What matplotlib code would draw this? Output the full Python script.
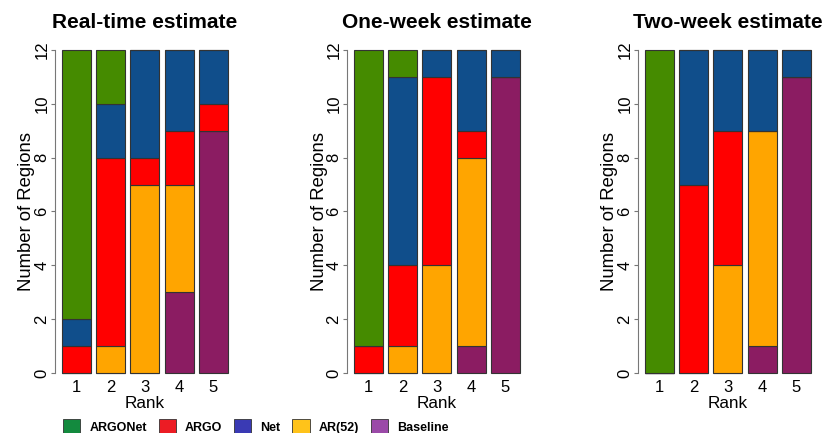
import matplotlib
matplotlib.use("Agg")
import matplotlib.pyplot as plt
from matplotlib.patches import Patch
from matplotlib.transforms import blended_transform_factory

plt.rcParams['font.family'] = ['Liberation Sans', 'DejaVu Sans']

ranks = [1, 2, 3, 4, 5]
# stacked from the bottom up
methods = ['Baseline', 'AR(52)', 'ARGO', 'Net', 'ARGONet']

real_time = {
    'ARGONet':  [10, 2, 0, 0, 0],
    'ARGO':     [1, 7, 1, 2, 1],
    'Net':      [1, 2, 4, 3, 2],
    'AR(52)':   [0, 1, 7, 4, 0],
    'Baseline': [0, 0, 0, 3, 9],
}
one_week = {
    'ARGONet':  [11, 1, 0, 0, 0],
    'ARGO':     [1, 3, 7, 1, 0],
    'Net':      [0, 7, 1, 3, 1],
    'AR(52)':   [0, 1, 4, 7, 0],
    'Baseline': [0, 0, 0, 1, 11],
}
two_week = {
    'ARGONet':  [12, 0, 0, 0, 0],
    'ARGO':     [0, 7, 5, 0, 0],
    'Net':      [0, 5, 3, 3, 1],
    'AR(52)':   [0, 0, 4, 8, 0],
    'Baseline': [0, 0, 0, 1, 11],
}
titles = ['Real-time estimate', 'One-week estimate', 'Two-week estimate']
panels = [real_time, one_week, two_week]

bar_colors = {'ARGONet': '#458B00', 'ARGO': '#FF0000', 'Net': '#104E8B',
              'AR(52)': '#FFA500', 'Baseline': '#8B1C62'}
legend_colors = {'ARGONet': '#138A3E', 'ARGO': '#EC1C24', 'Net': '#3A3AB4',
                 'AR(52)': '#FFC31A', 'Baseline': '#9B4AA8'}
legend_order = ['ARGONet', 'ARGO', 'Net', 'AR(52)', 'Baseline']

W, H = 824, 433
fig = plt.figure(figsize=(W / 100, H / 100), dpi=100)

spine_x = [55, 347, 638]
ax_w = 179
ax_bottom = 60
ax_h = 323

for left, title, counts in zip(spine_x, titles, panels):
    ax = fig.add_axes([left / W, ax_bottom / H, ax_w / W, ax_h / H])
    bottom = [0] * len(ranks)
    for m in methods:
        ax.bar(ranks, counts[m], width=0.85, bottom=bottom, color=bar_colors[m],
               edgecolor='#333333', linewidth=0.8, clip_on=False)
        bottom = [b + c for b, c in zip(bottom, counts[m])]

    ax.set_xlim(0.375, 5.6)
    ax.set_ylim(0, 12)
    for s in ['top', 'right', 'bottom']:
        ax.spines[s].set_visible(False)
    ax.spines['left'].set_color('#777777')
    ax.spines['left'].set_linewidth(0.8)

    ax.set_yticks(range(0, 13, 2))
    ax.tick_params(axis='y', length=3, width=0.8, color='#777777', pad=1,
                   labelsize=12, labelrotation=90)
    for lab in ax.get_yticklabels():
        lab.set_va('center')
    ax.set_xticks(ranks)
    ax.tick_params(axis='x', length=0, pad=5, labelsize=12)

    trans = blended_transform_factory(ax.transAxes, ax.transAxes)
    ax.text(0.5, 1 + 27 / ax_h, title, ha='center', va='center',
            fontsize=15, fontweight='bold', transform=trans)
    ax.text(-28 / ax_w, 0.5, 'Number of Regions', rotation=90, ha='center',
            va='center', fontsize=13.3, transform=trans)
    ax.text(0.5, -30 / ax_h, 'Rank', ha='center', va='center', fontsize=12.3,
            transform=trans)

handles = [Patch(facecolor=legend_colors[m], edgecolor='#333333', linewidth=0.6)
           for m in legend_order]
fig.legend(handles, legend_order, ncol=5, loc='center left',
           bbox_to_anchor=(63 / W, 6 / H), frameon=False,
           prop={'weight': 'bold', 'size': 9}, handlelength=1.37,
           handleheight=1.6, handletextpad=0.73, columnspacing=0.95,
           borderpad=0, borderaxespad=0)

fig.savefig('out.png', dpi=100)
